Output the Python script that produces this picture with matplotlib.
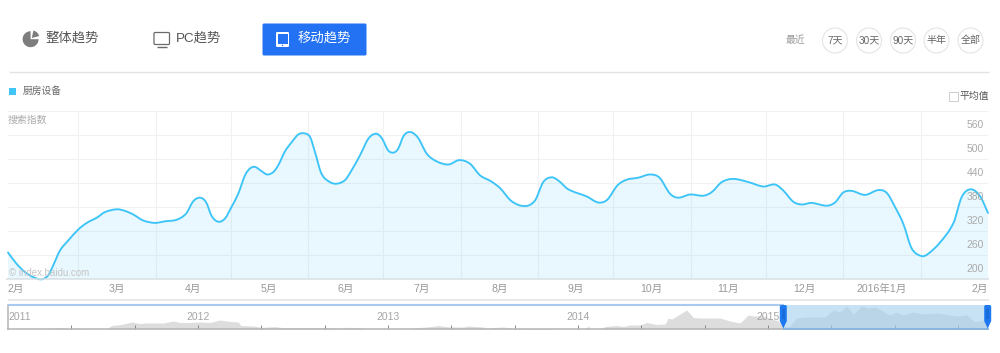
import datetime as dt
import matplotlib
matplotlib.use("Agg")
import matplotlib.pyplot as plt
from matplotlib.path import Path
from matplotlib.patches import PathPatch, FancyBboxPatch, Rectangle, Circle, Wedge, Polygon
from matplotlib.transforms import blended_transform_factory

plt.rcParams['font.family'] = ['Liberation Sans', 'Noto Sans CJK SC', 'DejaVu Sans']

# ---- main series: days since 2015-02-01, search index
days = [0, 3.4, 6.8, 10.2, 13.5, 16.1, 18.1, 20.8, 24.1, 28.2, 31.5, 35.5, 38.8, 43.5, 46.8, 50.1,
        54.1, 58.8, 62.8, 67.5, 71.2, 74.1, 76.8, 79.2, 81.5, 84.1, 86.8, 89.4, 92.1, 94.8, 96.8, 98.8,
        101.5, 103.7, 106.1, 108.1, 110.8, 113.5, 116.1, 118.4, 120.8, 122.8, 125.4, 128.8, 131.5, 134.8,
        137.4, 140.8, 144.2, 147.2, 149.5, 152.1, 154.4, 156.1, 158.4, 161.1, 164.1, 167.5, 171.4, 176.2,
        180.5, 184.8, 188.8, 193.2, 196.8, 201.5, 206.8, 210.8, 214.1, 217.5, 220.5, 224.1, 231.5, 236.1,
        239.7, 243.8, 247.5, 252.1, 256.8, 260.6, 264.8, 268.1, 272.8, 278.2, 281.5, 285.5, 290.1, 296.2,
        302.1, 306.8, 310.1, 314.1, 317.5, 321.4, 327.5, 330.8, 334.1, 337.5, 342.8, 348.1, 351.5, 354.8,
        358.1, 361.5, 365.5, 368.1, 372.8, 378.2, 381.5, 385.1, 388.8, 392.0]
values = [267, 239, 218, 205, 200, 210, 235, 272, 297, 325, 341, 354, 368, 375, 371, 362,
          347, 341, 345, 349, 364, 395, 404, 393, 358, 344, 352, 381, 414, 460, 477, 481,
          470, 462, 468, 485, 520, 543, 562, 565, 556, 518, 464, 443, 439, 448,
          472, 510, 552, 564, 553, 522, 517, 527, 560, 568, 553, 514, 495, 487,
          498, 489, 460, 445, 428, 395, 383, 397, 443, 455, 445, 425, 407, 392,
          399, 435, 449, 454, 462, 454, 414, 404, 412, 409, 418, 443, 451, 443,
          432, 437, 422, 394, 387, 391, 384, 392, 417, 421, 411, 423, 416, 381,
          339, 277, 258, 264, 292, 341, 406, 425, 408, 366]

series_name = '厨房设备'
y_ticks = [200, 260, 320, 380, 440, 500, 560]
y_grid = [200, 260, 320, 380, 440, 500, 560, 620]
month_starts = ['2015-03-01', '2015-04-01', '2015-05-01', '2015-06-01', '2015-07-01', '2015-08-01',
                '2015-09-01', '2015-10-01', '2015-11-01', '2015-12-01', '2016-01-01', '2016-02-01']
month_labels = ['3月', '4月', '5月', '6月', '7月', '8月', '9月', '10月', '11月', '12月', '2016年1月']

# ---- overview series: years, height of the grey area
ov_years = [2011.0, 2011.204, 2011.221, 2011.247, 2011.282, 2011.317, 2011.353, 2011.396, 2011.519, 2011.546,
            2011.598, 2011.651, 2011.695, 2011.730, 2011.818, 2011.870, 2011.905, 2011.958, 2012.011, 2012.063,
            2012.116, 2012.168, 2012.212, 2012.225, 2012.291, 2012.335, 2012.405, 2012.467, 2012.511, 2012.572,
            2012.616, 2012.668, 2012.730, 2012.791, 2012.861, 2012.888, 2013.063, 2013.116, 2013.151, 2013.204,
            2013.265, 2013.326, 2013.396, 2013.423, 2013.502, 2013.519, 2013.554, 2013.607, 2013.660, 2013.730,
            2013.870, 2013.888, 2014.037, 2014.054, 2014.067, 2014.116, 2014.142, 2014.204, 2014.239, 2014.274,
            2014.326, 2014.361, 2014.414, 2014.458, 2014.475, 2014.493, 2014.511, 2014.572, 2014.607, 2014.642,
            2014.747, 2014.8, 2014.853, 2014.896, 2014.923, 2014.975, 2015.054, 2015.081, 2015.116, 2015.151,
            2015.204, 2015.3, 2015.344, 2015.379, 2015.414, 2015.449, 2015.493, 2015.528, 2015.563, 2015.642,
            2015.677, 2015.712, 2015.765, 2015.818, 2015.888, 2015.993, 2016.046, 2016.089, 2016.133, 2016.158]
ov_values = [0, 0.3, 1, 1, 1.3, 0.5, 1, 0.3, 0.2, 3.5,
             4.5, 7, 5.5, 6, 6, 8, 6.5, 6.5, 7, 6.5,
             9, 7.5, 7, 3.5, 3, 1.7, 2.3, 1, 1.5, 1.3,
             1.3, 1.5, 0.6, 1.7, 0.8, 0, 0, 0.2, 1.3, 2,
             3.5, 2, 2, 3, 2, 0.5, 1.5, 2, 0.7, 0.5,
             0.5, 0, 0, 3, 0, 0, 2.5, 3.5, 2.5, 4,
             4, 6.5, 4.5, 5, 11, 10, 12, 19, 11.5, 11,
             11, 8, 6, 14, 13, 13, 8, 2, 3, 11,
             12, 12, 19, 17, 23, 15, 23, 21, 22, 14,
             17, 14, 17, 15, 16, 13, 14, 7, 9, 21]
ov_ticks = [2011 + i / 3 for i in range(1, 16)]
ov_year_labels = ['2011', '2012', '2013', '2014', '2015']
range_labels = ['7天', '30天', '90天', '半年', '全部']

W, H = 1000, 353
fig = plt.figure(figsize=(W / 100, H / 100), dpi=100, facecolor='white')


def px_axes(l, t, r, b, **kw):
    return fig.add_axes([l / W, 1 - b / H, (r - l) / W, (b - t) / H], **kw)


def smooth_path(xs, ys, close_to=None):
    verts = [(xs[0], ys[0])]
    codes = [Path.MOVETO]
    n = len(xs)
    for i in range(n - 1):
        p0 = i - 1 if i > 0 else i
        p3 = i + 2 if i + 2 < n else i + 1
        h = xs[i + 1] - xs[i]
        m1 = (ys[i + 1] - ys[p0]) / (xs[i + 1] - xs[p0])
        m2 = (ys[p3] - ys[i]) / (xs[p3] - xs[i])
        verts += [(xs[i] + h / 3, ys[i] + m1 * h / 3),
                  (xs[i + 1] - h / 3, ys[i + 1] - m2 * h / 3),
                  (xs[i + 1], ys[i + 1])]
        codes += [Path.CURVE4] * 3
    if close_to is not None:
        verts += [(xs[-1], close_to), (xs[0], close_to), (xs[0], ys[0])]
        codes += [Path.LINETO, Path.LINETO, Path.CLOSEPOLY]
    return Path(verts, codes)


# ---- main chart
ax = px_axes(8, 111.3, 988, 279.3)
ax.set_xlim(0, 392)
ax.set_ylim(200, 620)
base = dt.date(2015, 2, 1)
grid_days = [(dt.date.fromisoformat(s) - base).days for s in month_starts]
ax.set_xticks(grid_days)
ax.set_yticks(y_grid)
ax.grid(True, color='#f1f1f1', lw=0.8)
ax.set_axisbelow(True)
ax.tick_params(length=0, labelbottom=False, labelleft=False)
for s in ax.spines.values():
    s.set_visible(False)
ax.add_patch(PathPatch(smooth_path(days, values, 200), fc='#3cc4f8', alpha=0.11, ec='none', zorder=2))
ax.add_patch(PathPatch(smooth_path(days, values), fc='none', ec='#3cc4f8', lw=1.35, zorder=3,
                       capstyle='round', joinstyle='round', clip_on=False))

ytrans = blended_transform_factory(ax.transAxes, ax.transData)
for v in y_ticks:
    ax.annotate(str(v), xy=(1, v), xycoords=ytrans, xytext=(-3, 7.5), textcoords='offset points',
                ha='right', va='center', fontsize=7.5, color='#aaaaaa', zorder=5)
xtrans = blended_transform_factory(ax.transData, ax.transAxes)
txt_kw = dict(xycoords=xtrans, textcoords='offset points', va='center', fontsize=7.6, color='#999999')
ax.annotate('2月', xy=(0, 0), xytext=(0, -7), ha='left', **txt_kw)
for i, lab in enumerate(month_labels):
    mid = (grid_days[i] + grid_days[i + 1]) / 2
    ax.annotate(lab, xy=(mid, 0), xytext=(0, -7), ha='center', **txt_kw)
ax.annotate('2月', xy=(392, 0), xytext=(0, -7), ha='right', **txt_kw)

# ---- overview strip
ov = px_axes(8, 305, 988, 329)
ov.set_xlim(2011, 2016.158)
ov.set_ylim(0, 24)
ov.set_facecolor('none')
ov.fill_between(ov_years, ov_values, 0, color='#dddddd', lw=0, zorder=1)
ov.set_xticks(ov_ticks)
ov.set_yticks([])
ov.tick_params(axis='x', direction='in', length=3, width=0.7, color='#888888', labelbottom=False)
for name, s in ov.spines.items():
    s.set_visible(name in ('left', 'bottom'))
    s.set_color('#b4b4b4')
    s.set_linewidth(1.1)
ov.plot([2011, 2015.084], [24, 24], color='#a9c9ef', lw=1.5, zorder=4, clip_on=False, solid_capstyle='butt')
ov.axvspan(2015.084, 2016.158, color='#a5cff0', alpha=0.62, lw=0, zorder=2)
ov.plot([2015.084, 2016.158], [0, 0], color='#82b2e6', lw=1.2, zorder=4, clip_on=False)
for i, lab in enumerate(ov_year_labels):
    yr = 2011 + i
    ov.text(yr, 11.5, lab, ha='left' if i == 0 else 'center', va='center', fontsize=7.5, color='#a5a5a5', zorder=3)

# ---- page furniture, in pixel coordinates
ui = fig.add_axes([0, 0, 1, 1], facecolor='none')
ui.set_xlim(0, W)
ui.set_ylim(H, 0)
ui.axis('off')


def hline(y, x0, x1, color, lw):
    ui.plot([x0, x1], [y, y], color=color, lw=lw, solid_capstyle='butt')


hline(71.5, 9, 989, '#e3e3e3', 1.0)
hline(279, 6, 988.5, '#d8dfe2', 1.1)
hline(300.3, 8, 989, '#e8e8e8', 1.4)

# tabs
ui.add_patch(Wedge((30.6, 39.2), 8, 0, 270, fc='#7d7d7d', ec='none'))
ui.add_patch(Wedge((31.8, 38.0), 7.6, 282, 345, fc='#7d7d7d', ec='none'))
ui.text(45, 38.5, '整体趋势', fontsize=9.6, color='#555555', va='center', ha='left')
ui.add_patch(FancyBboxPatch((154, 32.5), 15.5, 12, boxstyle='round,pad=0,rounding_size=1.2',
                            fc='none', ec='#6a6a6a', lw=0.9))
hline(47, 157, 166.5, '#6a6a6a', 1.0)
ui.text(176, 38, 'PC趋势', fontsize=9.6, color='#555555', va='center', ha='left')
ui.add_patch(FancyBboxPatch((262.5, 23.5), 104, 32, boxstyle='round,pad=0,rounding_size=1.5',
                            fc='#2272f3', ec='none'))
ui.add_patch(FancyBboxPatch((276, 32), 13, 15, boxstyle='round,pad=0,rounding_size=1.2',
                            fc='white', ec='none'))
ui.add_patch(Rectangle((277.5, 33.5), 10, 10.5, fc='#2272f3', ec='none'))
ui.add_patch(Circle((282.5, 45.4), 0.7, fc='#2272f3', ec='none'))
ui.text(298, 38.5, '移动趋势', fontsize=9.6, color='white', va='center', ha='left')

# range buttons
ui.text(786, 40.5, '最近', fontsize=7, color='#999999', va='center', ha='left')
for cx, lab in zip([835, 869, 903, 936.5, 970.5], range_labels):
    ui.add_patch(Circle((cx, 40.5), 12.5, fc='white', ec='#e4e4e4', lw=0.8))
    ui.text(cx, 40.5, lab, fontsize=7.2, color='#666666', va='center', ha='center')

# legend and captions
ui.add_patch(Rectangle((8.5, 88), 7, 7, fc='#3fc5f6', ec='none'))
ui.text(23, 91, series_name, fontsize=7, color='#666666', va='center', ha='left')
ui.add_patch(Rectangle((948.7, 92.3), 9, 9, fc='white', ec='#cccccc', lw=0.7))
ui.text(960, 96, '平均值', fontsize=7.1, color='#555555', va='center', ha='left')
ui.text(8, 119.5, '搜索指数', fontsize=7.1, color='#aaaaaa', va='center', ha='left')
ui.text(9, 272.5, '© index.baidu.com', fontsize=7, color='#c4c4c4', va='center', ha='left')

# range handles
for hx in (783.3, 987.7):
    ui.add_patch(FancyBboxPatch((hx - 3.5, 305), 7, 17.5, boxstyle='round,pad=0,rounding_size=1.8',
                                fc='#1e78ef', ec='none', zorder=6))
    ui.add_patch(Polygon([(hx - 3, 322), (hx + 3, 322), (hx, 328.5)], fc='#1e78ef', ec='none', zorder=6))
    ui.add_patch(Rectangle((hx - 1.5, 309), 3, 10, fc='#1a6ad8', ec='none', zorder=7))

fig.savefig('out.png', dpi=100, facecolor='white')
